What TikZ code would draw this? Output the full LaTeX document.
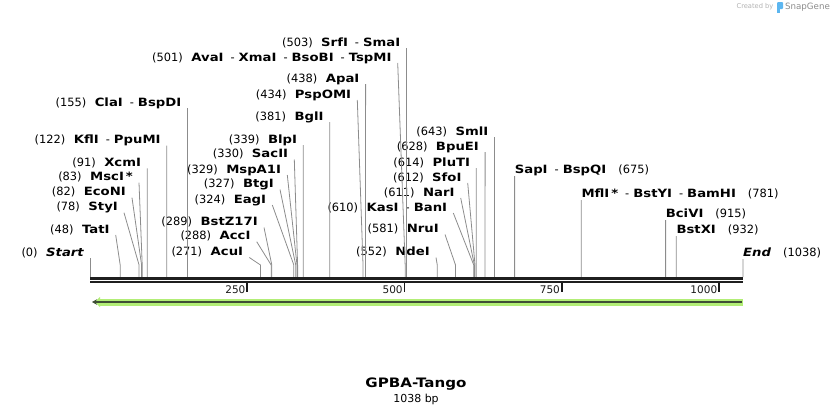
\documentclass[tikz,border=0pt]{standalone}
\usepackage{fontspec}
\setmainfont{DejaVu Sans}
\newfontfamily\namefont{DejaVu Sans}[FakeStretch=1.16]
\usetikzlibrary{arrows.meta}

\definecolor{featgreen}{RGB}{178,238,118}
\definecolor{featline}{RGB}{62,78,52}
\definecolor{sglogo}{RGB}{92,182,240}

\newcommand\enz[1]{{\namefont\bfseries #1}}
\newcommand\termlbl[1]{{\namefont\bfseries\itshape #1}}
\newcommand\orsep{\hspace{7pt}-\hspace{4pt}}
\newcommand\cutno[1]{(#1)\hspace{8.5pt}}
\newcommand\rno[1]{\hspace{12pt}(#1)}

\begin{document}
\begin{tikzpicture}[x=1pt, y=-1pt,
    cut/.style={draw=black!45, line width=0.8pt},
    lbl/.style={anchor=south east, inner xsep=6pt, inner ysep=1.8pt,
      text height=8.3pt, text depth=0pt, font=\fontsize{11.4}{13}\selectfont},
    rlbl/.style={lbl, anchor=south west, inner xsep=0pt, inner ysep=2.8pt},
    tick/.style={line width=1.8pt, black!90},
    ticklbl/.style={anchor=east, inner sep=1pt, font=\fontsize{10.5}{12}\selectfont}]
  \useasboundingbox (0,0) rectangle (834,415);

  \node[font=\fontsize{6.7}{8}\selectfont, text=black!30] (crby) at (755,7) {Created by};
  \fill[sglogo, rounded corners=1pt] (777,2) rectangle (783,9);
  \fill[sglogo] (777,8) rectangle (779.5,13);
  \node[font=\fontsize{8.7}{10}\selectfont, text=black!45] (sgname) at (807.5,7) {SnapGene};

  \begin{scope}[shift={(90,277)}, x=0.62909pt]
    \coordinate (s0) at (0,0);     \coordinate (s48) at (48,0);   \coordinate (s78) at (78,0);
    \coordinate (s82) at (82,0);   \coordinate (s83) at (83,0);   \coordinate (s91) at (91,0);
    \coordinate (s122) at (122,0); \coordinate (s155) at (155,0); \coordinate (s271) at (271,0);
    \coordinate (s288) at (288,0); \coordinate (s289) at (289,0); \coordinate (s324) at (324,0);
    \coordinate (s327) at (327,0); \coordinate (s329) at (329,0); \coordinate (s330) at (330,0);
    \coordinate (s339) at (339,0); \coordinate (s381) at (381,0); \coordinate (s434) at (434,0);
    \coordinate (s438) at (438,0); \coordinate (s501) at (501,0); \coordinate (s503) at (503,0);
    \coordinate (s552) at (552,0); \coordinate (s581) at (581,0); \coordinate (s610) at (610,0);
    \coordinate (s611) at (611,0); \coordinate (s612) at (612,0); \coordinate (s614) at (614,0);
    \coordinate (s628) at (628,0); \coordinate (s643) at (643,0); \coordinate (s675) at (675,0);
    \coordinate (s781) at (781,0); \coordinate (s915) at (915,0); \coordinate (s932) at (932,0);
    \coordinate (s1038) at (1038,0);
    \coordinate (t250) at (250,6);  \coordinate (t500) at (500,6);
    \coordinate (t750) at (750,6);  \coordinate (t1000) at (1000,6);
  \end{scope}

  \node[lbl] (start) at (90,258) {\cutno{0}\termlbl{Start}};
  \node[lbl] (tati) at (115.7,235) {\cutno{48}\enz{TatI}};
  \node[lbl] (styi) at (124,212.7) {\cutno{78}\enz{StyI}};
  \node[lbl] (econi) at (132,197.7) {\cutno{82}\enz{EcoNI}};
  \node[lbl] (msci) at (139,182.7) {\cutno{83}\enz{MscI\,*}};
  \node[lbl] (xcmi) at (147.2,168.3) {\cutno{91}\enz{XcmI}};
  \node[lbl] (kfli) at (166.8,145.5) {\cutno{122}\enz{KflI}\orsep\enz{PpuMI}};
  \node[lbl] (clai) at (187.5,108) {\cutno{155}\enz{ClaI}\orsep\enz{BspDI}};
  \node[lbl] (acui) at (249.3,257.5) {\cutno{271}\enz{AcuI}};
  \node[lbl] (acci) at (256.7,241.7) {\cutno{288}\enz{AccI}};
  \node[lbl] (bstzi) at (264,227.5) {\cutno{289}\enz{BstZ17I}};
  \node[lbl] (eagi) at (272.3,205) {\cutno{324}\enz{EagI}};
  \node[lbl] (btgi) at (280,189.5) {\cutno{327}\enz{BtgI}};
  \node[lbl] (mspai) at (287.3,175) {\cutno{329}\enz{MspA1I}};
  \node[lbl] (sacii) at (294.3,159.5) {\cutno{330}\enz{SacII}};
  \node[lbl] (blpi) at (303.3,145) {\cutno{339}\enz{BlpI}};
  \node[lbl] (bgli) at (329.7,122) {\cutno{381}\enz{BglI}};
  \node[lbl] (pspomi) at (357.3,100) {\cutno{434}\enz{PspOMI}};
  \node[lbl] (apai) at (365.6,84) {\cutno{438}\enz{ApaI}};
  \node[lbl] (avai) at (397.7,63) {\cutno{501}\enz{AvaI}\orsep\enz{XmaI}\orsep\enz{BsoBI}\orsep\enz{TspMI}};
  \node[lbl] (srfi) at (406.4,48) {\cutno{503}\enz{SrfI}\orsep\enz{SmaI}};
  \node[lbl] (ndei) at (436,257.5) {\cutno{552}\enz{NdeI}};
  \node[lbl] (nrui) at (445,234.5) {\cutno{581}\enz{NruI}};
  \node[lbl] (kasi) at (453.3,213) {\cutno{610}\enz{KasI}\orsep\enz{BanI}};
  \node[lbl] (nari) at (460.7,198) {\cutno{611}\enz{NarI}};
  \node[lbl] (sfoi) at (467.7,183) {\cutno{612}\enz{SfoI}};
  \node[lbl] (pluti) at (476.3,168) {\cutno{614}\enz{PluTI}};
  \node[lbl] (bpuei) at (485.1,152) {\cutno{628}\enz{BpuEI}};
  \node[lbl] (smli) at (494.5,137) {\cutno{643}\enz{SmlI}};
  \node[rlbl] (sapi) at (514.6,176) {\enz{SapI}\orsep\enz{BspQI}\rno{675}};
  \node[rlbl] (mfli) at (581.3,200) {\enz{MflI\,*}\orsep\enz{BstYI}\orsep\enz{BamHI}\rno{781}};
  \node[rlbl] (bcivi) at (665.6,220) {\enz{BciVI}\rno{915}};
  \node[rlbl] (bstxi) at (676.3,236) {\enz{BstXI}\rno{932}};
  \node[rlbl] (endl) at (743,259) {\termlbl{End}\rno{1038}};

  \draw[cut] (start.south east) -- (s0);
  \draw[cut] (tati.south east) -- ([yshift=12pt]s48) -- (s48);
  \draw[cut] (styi.south east) -- ([yshift=12pt]s78) -- (s78);
  \draw[cut] (econi.south east) -- ([yshift=12pt]s82) -- (s82);
  \draw[cut] (msci.south east) -- ([yshift=12pt]s83) -- (s83);
  \draw[cut] (xcmi.south east) -- (s91);
  \draw[cut] (kfli.south east) -- (s122);
  \draw[cut] (clai.south east) -- (s155);
  \draw[cut] (acui.south east) -- ([yshift=12pt]s271) -- (s271);
  \draw[cut] (acci.south east) -- ([yshift=12pt]s288) -- (s288);
  \draw[cut] (bstzi.south east) -- ([yshift=12pt]s289) -- (s289);
  \draw[cut] (eagi.south east) -- ([yshift=12pt]s324) -- (s324);
  \draw[cut] (btgi.south east) -- ([yshift=12pt]s327) -- (s327);
  \draw[cut] (mspai.south east) -- ([yshift=12pt]s329) -- (s329);
  \draw[cut] (sacii.south east) -- ([yshift=12pt]s330) -- (s330);
  \draw[cut] (blpi.south east) -- (s339);
  \draw[cut] (bgli.south east) -- (s381);
  \draw[cut] (pspomi.south east) -- ([yshift=12pt]s434) -- (s434);
  \draw[cut] (apai.south east) -- (s438);
  \draw[cut] (avai.south east) -- ([yshift=12pt]s501) -- (s501);
  \draw[cut] (srfi.south east) -- (s503);
  \draw[cut] (ndei.south east) -- ([yshift=12pt]s552) -- (s552);
  \draw[cut] (nrui.south east) -- ([yshift=12pt]s581) -- (s581);
  \draw[cut] (kasi.south east) -- ([yshift=12pt]s610) -- (s610);
  \draw[cut] (nari.south east) -- ([yshift=12pt]s611) -- (s611);
  \draw[cut] (sfoi.south east) -- ([yshift=12pt]s612) -- (s612);
  \draw[cut] (pluti.south east) -- (s614);
  \draw[cut] (bpuei.south east) -- (s628);
  \draw[cut] (smli.south east) -- (s643);
  \draw[cut] (sapi.south west) -- (s675);
  \draw[cut] (mfli.south west) -- (s781);
  \draw[cut] (bcivi.south west) -- (s915);
  \draw[cut] (bstxi.south west) -- (s932);
  \draw[cut] (endl.south west) -- (s1038);

  \draw[line width=2.6pt, black!88] ([yshift=-1.3pt]s0) -- ([yshift=-1.3pt]s1038);
  \draw[line width=2pt, black!88] ([yshift=-5pt]s0) -- ([yshift=-5pt]s1038);

  \draw[tick] (t250) -- ([yshift=-9pt]t250) node[ticklbl, pos=0.7] (l250) {250};
  \draw[tick] (t500) -- ([yshift=-9pt]t500) node[ticklbl, pos=0.7] (l500) {500};
  \draw[tick] (t750) -- ([yshift=-9pt]t750) node[ticklbl, pos=0.7] (l750) {750};
  \draw[tick] (t1000) -- ([yshift=-9pt]t1000) node[ticklbl, pos=0.7] (l1000) {1000};

  \coordinate (feata) at (743,302);
  \coordinate (featb) at (90,302);
  \draw[featgreen, line width=7pt, -{Triangle[length=5pt, width=10pt]}] (feata) -- ([xshift=5pt]featb);
  \draw[featline, line width=2pt, -{Stealth[length=5pt, width=5.5pt]}] ([xshift=-1pt]feata) -- ([xshift=2pt]featb);

  \node[font=\namefont\bfseries\fontsize{13}{15}\selectfont] (title) at (416,384) {GPBA-Tango};
  \node[font=\fontsize{11}{13}\selectfont] (bplen) at (416,399.5) {1038 bp};
\end{tikzpicture}
\end{document}
